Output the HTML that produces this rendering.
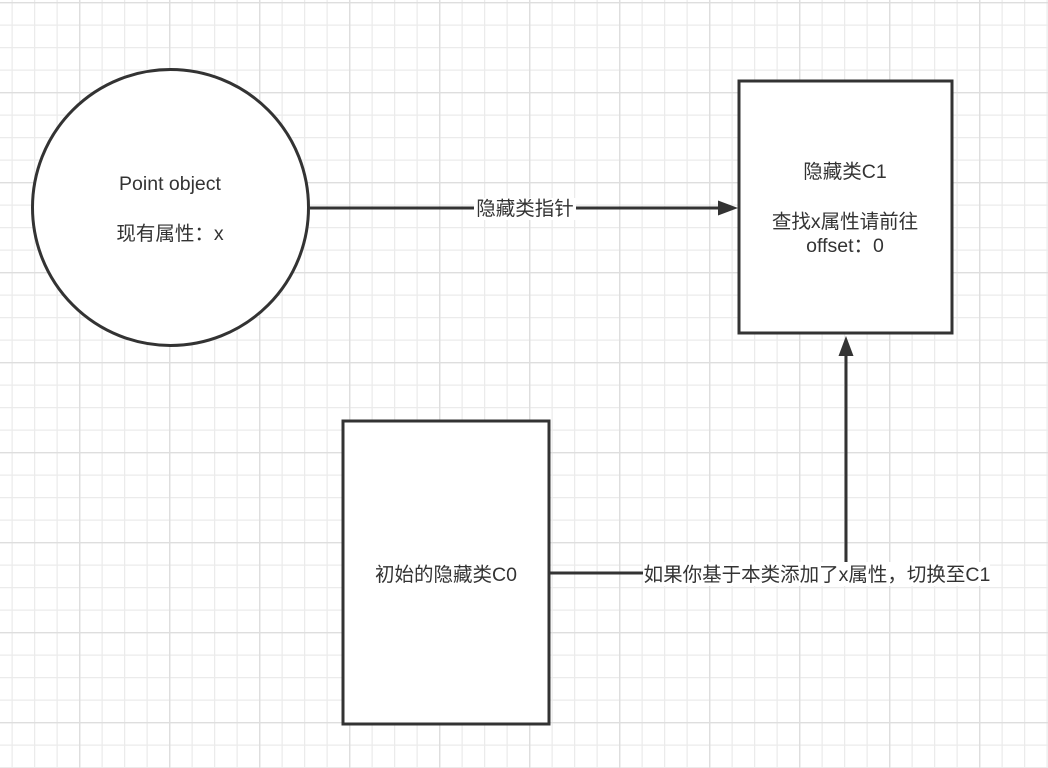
<!DOCTYPE html>
<html><head><meta charset="utf-8"><style>
html,body{margin:0;padding:0;width:1048px;height:768px;overflow:hidden;background:#fff}
</style></head><body>
<svg width="1048" height="768" xmlns="http://www.w3.org/2000/svg" font-family="'Liberation Sans','Noto Sans CJK SC',sans-serif">
<defs>
<pattern id="minor" x="-11" y="2" width="22.5" height="22.5" patternUnits="userSpaceOnUse">
<path d="M0 0.5H22.5M0.5 0V22.5" stroke="#ebebeb" stroke-width="1.5" fill="none"/>
</pattern>
<pattern id="major" x="-11" y="2" width="90" height="90" patternUnits="userSpaceOnUse">
<path d="M0 0.5H90M0.5 0V90" stroke="#dedede" stroke-width="1.8" fill="none"/>
</pattern>
</defs>
<rect width="1048" height="768" fill="url(#minor)"/>
<rect width="1048" height="768" fill="url(#major)"/>
<g stroke="#333" stroke-width="3" fill="#fff">
<circle cx="170.5" cy="207.5" r="138"/>
<rect x="739" y="81" width="213" height="252"/>
<rect x="343" y="421" width="206" height="303"/>
</g>
<g stroke="#333" stroke-width="3" fill="none">
<path d="M310 208H722"/>
<path d="M549 573H846V352"/>
</g>
<g fill="#333">
<path d="M738 208L718 200.5V215.5Z"/>
<path d="M846 336L838.5 356H853.5Z"/>
</g>
<g font-size="19.5" fill="#333" text-anchor="middle">
<text x="170" y="190">Point object</text>
<text x="170" y="240">现有属性：x</text>
<text x="845" y="178">隐藏类C1</text>
<text x="845" y="228">查找x属性请前往</text>
<text x="845" y="252">offset：0</text>
<text x="446" y="581">初始的隐藏类C0</text>
</g>
<rect x="474" y="198" width="102" height="22" fill="#fff"/>
<text x="525" y="215" font-size="19.5" fill="#333" text-anchor="middle">隐藏类指针</text>
<rect x="643" y="562" width="347" height="24" fill="#fff"/>
<text x="817" y="581" font-size="19.5" fill="#333" text-anchor="middle">如果你基于本类添加了x属性，切换至C1</text>
</svg>
</body></html>
